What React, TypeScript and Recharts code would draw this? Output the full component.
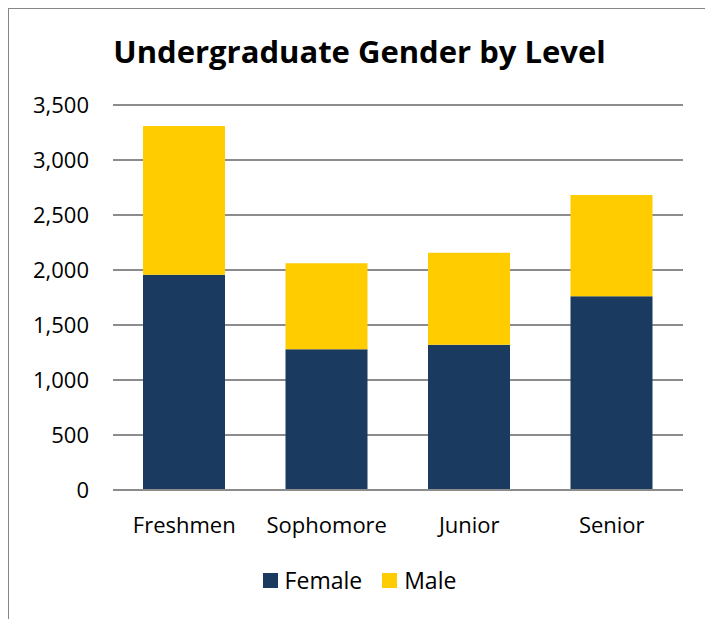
import { Bar, BarChart, CartesianGrid, Legend, XAxis, YAxis } from 'recharts';

const levels = ['Freshmen', 'Sophomore', 'Junior', 'Senior'];
const female = [1957, 1279, 1321, 1761];
const male = [1352, 782, 836, 921];
const yTicks = [0, 500, 1000, 1500, 2000, 2500, 3000, 3500];

const data = levels.map((level, i) => ({ level, Female: female[i], Male: male[i] }));

const navy = '#1B3A60';
const gold = '#FFCC00';
const grid = '#8C8C8C';
const font = '"Open Sans", sans-serif';

function LegendContent() {
  const items = [
    { name: 'Female', color: navy },
    { name: 'Male', color: gold },
  ];
  return (
    <div style={{ display: 'flex', justifyContent: 'center', gap: 20, fontFamily: font, fontSize: 23 }}>
      {items.map((it) => (
        <div key={it.name} style={{ display: 'flex', alignItems: 'center', gap: 7 }}>
          <span style={{ width: 15, height: 15, background: it.color, display: 'inline-block' }} />
          <span style={{ color: '#000' }}>{it.name}</span>
        </div>
      ))}
    </div>
  );
}

export default function App() {
  return (
    <div
      style={{
        position: 'relative',
        width: 701,
        height: 610,
        borderTop: '1px solid #868686',
        borderLeft: '1px solid #868686',
        borderRight: '1px solid #868686',
        background: '#fff',
      }}
    >
      <div
        style={{
          position: 'absolute',
          top: 21,
          left: 0,
          width: 701,
          textAlign: 'center',
          fontFamily: font,
          fontWeight: 700,
          fontSize: 31,
          color: '#000',
        }}
      >
        Undergraduate Gender by Level
      </div>
      <BarChart
        width={701}
        height={610}
        data={data}
        margin={{ top: 96, right: 27, bottom: 0, left: 0 }}
        barSize={82}
      >
        <CartesianGrid vertical={false} stroke={grid} strokeWidth={2} />
        <XAxis
          dataKey="level"
          height={129}
          axisLine={{ stroke: grid, strokeWidth: 2 }}
          tickLine={false}
          tickMargin={21}
          tick={{ fill: '#000', fontSize: 22, fontFamily: font }}
        />
        <YAxis
          width={104}
          domain={[0, 3500]}
          ticks={yTicks}
          axisLine={false}
          tickLine={false}
          tickMargin={18}
          tick={{ fill: '#000', fontSize: 22, fontFamily: font }}
          tickFormatter={(v) => Number(v).toLocaleString('en-US')}
        />
        <Legend
          verticalAlign="middle"
          align="center"
          content={<LegendContent />}
          wrapperStyle={{ top: 555, left: 0, width: 701 }}
        />
        <Bar dataKey="Female" stackId="g" fill={navy} isAnimationActive={false} />
        <Bar dataKey="Male" stackId="g" fill={gold} isAnimationActive={false} />
      </BarChart>
    </div>
  );
}
